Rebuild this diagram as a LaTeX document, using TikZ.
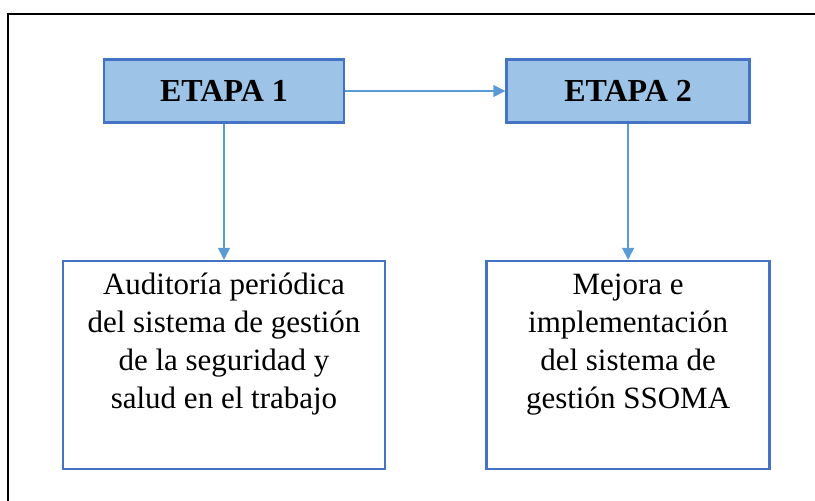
\documentclass[tikz,border=0pt]{standalone}
\usepackage{fontspec}
\setmainfont{Liberation Serif}
\usepackage{tikz}
\usetikzlibrary{arrows.meta,positioning}

\definecolor{boxline}{HTML}{4472C4}
\definecolor{boxfill}{HTML}{9DC3E6}
\definecolor{arrowline}{HTML}{5B9BD5}

\begin{document}
\begin{tikzpicture}[
      etapabox/.style={
         rectangle,
         draw=boxline,
         fill=boxfill,
         line width=2.6pt,
         minimum width=240pt,
         minimum height=63pt,
         font=\fontsize{32}{36}\selectfont\bfseries},
      textbox/.style={
         rectangle,
         draw=boxline,
         line width=2.6pt,
         align=center,
         minimum height=208pt,
         font=\fontsize{31}{38}\selectfont},
      myarrow/.style={-{Triangle[length=12pt,width=12pt]},draw=arrowline,
         line width=1.4pt}
      ]
      \useasboundingbox (0pt,0pt) rectangle (815pt,-501pt);
      % outer frame (only left and top sides show)
      \draw[line width=2pt] (8pt,-501pt) |- (815pt,-14pt);

      \node[etapabox] (e1) at (224pt,-91pt) {ETAPA 1};
      \node[etapabox,right=160pt of e1,minimum width=243pt] (e2) {ETAPA 2};
      \node[textbox,below=136pt of e1,minimum width=322pt] (b1)
         {Auditoría periódica\\del sistema de gestión\\de la seguridad y\\salud en el trabajo\\[10pt] \mbox{}};
      \node[textbox,minimum width=283pt] (b2) at (e2.center |- b1.center)
         {Mejora e\\implementación\\del sistema de\\gestión SSOMA\\[10pt] \mbox{}};

      \draw [myarrow] (e1) -- (e2);
      \draw [myarrow] (e1) -- (b1);
      \draw [myarrow] (e2) -- (b2);
\end{tikzpicture}
\end{document}
